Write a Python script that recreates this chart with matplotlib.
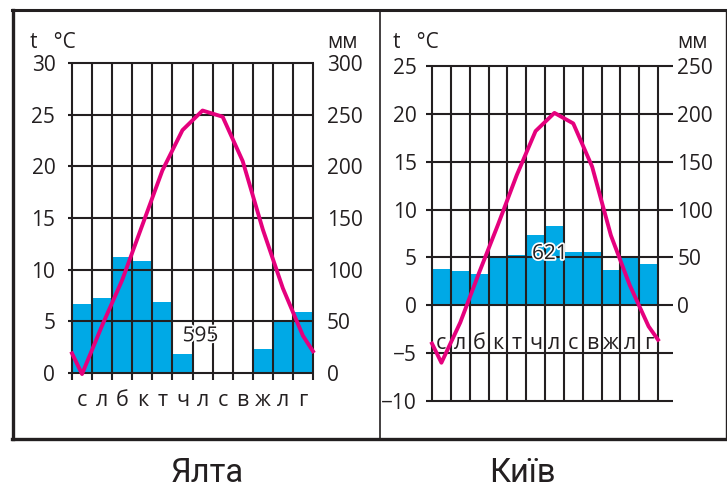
import matplotlib
matplotlib.use("Agg")
import numpy as np
import matplotlib.pyplot as plt
import matplotlib.patheffects as pe
from matplotlib.lines import Line2D

# дані
months = ["с", "л", "б", "к", "т", "ч", "л", "с", "в", "ж", "л", "г"]

yalta_temp = [-0.1, 4.6, 9.0, 14.3, 19.6, 23.5, 25.4, 24.8, 20.5, 13.9, 8.2, 3.6]
yalta_temp_edges = [1.9, 2.1]
yalta_precip = [67, 73, 112, 108, 69, 18, 0, 0, 0, 23, 50, 59]
yalta_total = "595"

kyiv_temp = [-6.0, -1.8, 3.4, 8.4, 13.6, 18.2, 20.1, 19.0, 14.5, 7.3, 2.1, -2.2]
kyiv_temp_edges = [-4.0, -3.6]
kyiv_precip = [38, 36, 33, 50, 53, 73, 83, 56, 56, 37, 50, 43]
kyiv_total = "621"

BAR = "#00a9e6"
LINE = "#e5007d"
INK = "#231f20"

plt.rcParams['font.family'] = ['Open Sans', 'DejaVu Sans']

W, H = 727, 488
fig = plt.figure(figsize=(W / 100, H / 100), dpi=100)


def fx(px):
    return px / W


def fy(py):
    return 1 - py / H


def draw_chart(rect, temp, edges, precip, total, ylim, tticks, pticks,
               hext, vbottom, month_y, total_xy, pads, head_x):
    ax = fig.add_axes(rect)
    ax2 = ax.twinx()
    ax.set_zorder(ax2.get_zorder() + 1)
    ax.patch.set_visible(False)

    ax.set_xlim(0, 12)
    ax.set_ylim(*ylim)
    ax2.set_ylim(ylim[0] * 10, ylim[1] * 10)

    x = np.arange(12) + 0.5
    ax2.bar(x, precip, width=1.0, color=BAR, linewidth=0)

    # сітка
    for t in tticks:
        ax.plot([hext[0], hext[1]], [t, t], color=INK, lw=1.5, clip_on=False,
                solid_capstyle='butt')
    for i in range(13):
        ax.plot([i, i], [vbottom, ylim[1]], color=INK, lw=1.5, clip_on=False,
                solid_capstyle='butt')

    # температура
    tx = [0] + list(x) + [12]
    ty = [edges[0]] + list(temp) + [edges[1]]
    ax.plot(tx, ty, color=LINE, lw=2.8, clip_on=False, zorder=5,
            solid_joinstyle='round')

    for a in (ax, ax2):
        for s in a.spines.values():
            s.set_visible(False)
        a.set_xticks([])
    ax.set_yticks(tticks)
    ax.set_yticklabels([str(t).replace("-", "\u2212") for t in tticks])
    ax2.set_yticks(pticks)
    ax2.set_yticklabels([str(p) for p in pticks])
    ax.tick_params(axis='y', length=0, pad=pads[0], labelsize=15, colors=INK)
    ax2.tick_params(axis='y', length=0, pad=pads[1], labelsize=15, colors=INK)

    for i, m in enumerate(months):
        ax.text(x[i], month_y, m, ha='center', va='baseline', fontsize=15.5,
                color=INK, clip_on=False, zorder=6)

    ax.text(total_xy[0], total_xy[1], total, ha='center', va='center',
            fontsize=15, color=INK, zorder=7,
            path_effects=[pe.withStroke(linewidth=2.5, foreground='white')])

    fig.text(fx(head_x[0]), fy(42), "t   \u00b0C", ha='left', va='center',
             fontsize=15, color=INK)
    fig.text(fx(head_x[1]), fy(43), "мм", ha='left', va='center',
             fontsize=15, color=INK)
    return ax


# Ялта
draw_chart([fx(72), fy(373), fx(313 - 72), (373 - 63) / H],
           yalta_temp, yalta_temp_edges, yalta_precip, yalta_total,
           (0, 30), [0, 5, 10, 15, 20, 25, 30], [0, 50, 100, 150, 200, 250, 300],
           (-0.2, 12.05), -0.7, -3.2, (6.4, 3.6), (12, 10), (30, 327))

# Київ
draw_chart([fx(432), fy(401), fx(658 - 432), (401 - 66) / H],
           kyiv_temp, kyiv_temp_edges, kyiv_precip, kyiv_total,
           (-10, 25), [-10, -5, 0, 5, 10, 15, 20, 25], [0, 50, 100, 150, 200, 250],
           (-0.32, 12.78), -10, -4.6, (6.26, 5.4), (11, 14), (393, 677))

# рамка
frame = [((12, 726), (10, 10), 2.2), ((13, 13), (10, 439), 2.4),
         ((12, 726), (439, 439), 2.4), ((380, 380), (10, 439), 1.2),
         ((726, 726), (10, 439), 1.0)]
for xs, ys, lw in frame:
    fig.add_artist(Line2D([fx(xs[0]), fx(xs[1])], [fy(ys[0]), fy(ys[1])],
                          color=INK, lw=lw))

fig.text(fx(207), fy(482), "Ялта", ha='center', va='baseline', fontsize=23.5,
         family=['Roboto', 'DejaVu Sans'], color=INK)
fig.text(fx(522), fy(482), "Київ", ha='center', va='baseline', fontsize=23.5,
         family=['Roboto', 'DejaVu Sans'], color=INK)

fig.savefig("out.png", dpi=100)
